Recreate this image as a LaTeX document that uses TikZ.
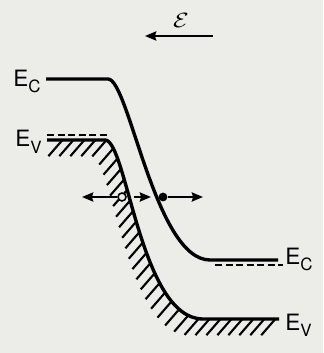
\documentclass[tikz,border=0pt]{standalone}
\usepackage{fontspec}
\setmainfont{TeX Gyre Heros}
\usetikzlibrary{arrows.meta,decorations.markings}
\definecolor{paper}{RGB}{236,236,233}
\newcommand{\lvl}[1]{E\raisebox{-0.15cm}{\fontsize{12}{12}\selectfont #1}}

\begin{document}
\begin{tikzpicture}[x=0.025cm, y=-0.025cm, >={Stealth[length=8pt,width=6.5pt,inset=1pt]},
        every node/.style={font=\fontsize{16}{16}\selectfont, inner sep=0pt},
        band/.style={line width=2.4pt},
        level/.style={line width=1.4pt, dash pattern=on 5pt off 2.5pt},
        move/.style={->, line width=1.5pt},
        hatch/.style={decorate, decoration={markings,
            mark=between positions 11pt and 1 step 7.8pt with
            {\pgftransformresetnontranslations \draw[line width=1.5pt] (0,0) -- (-10pt,-11.5pt);}}}]
                \fill[paper] (0,0) rectangle (323,353);
                \useasboundingbox (0,0) rectangle (323,353);

                % field
                \node (fld) at (181,20) {\scalebox{1.05}[0.85]{$\mathcal{E}$}};
                \coordinate (fldA) at (213,36);
                \coordinate (fldB) at (145,36);
                \draw[move] (fldA) -- (fldB);

                % bands
                \draw[band] (46,79) -- (108,79) .. controls (129,79) and (155,260) .. (210,260) -- (278,260);
                \path[hatch] (47,140) -- (105,140) .. controls (127,140) and (140,319) .. (203,319) -- (279,319);
                \draw[band] (47,140) -- (105,140) .. controls (127,140) and (140,319) .. (203,319) -- (279,319);
                \draw[level] (47,135) -- (107,135);
                \draw[level] (215,265) -- (283,265);

                \node[anchor=base west] (ecl) at (13,87) {\lvl{C}};
                \node[anchor=base west] (evl) at (15,147) {\lvl{V}};
                \node[anchor=base west] (ecr) at (285,264) {\lvl{C}};
                \node[anchor=base west] (evr) at (285,330) {\lvl{V}};

                % carriers
                \node[circle, draw, fill=paper, line width=1.1pt, minimum size=0.2cm] (hl) at (122,197) {};
                \node[circle, fill, minimum size=0.22cm] (el) at (163,197) {};
                \coordinate (hlL) at (82,197);
                \coordinate (midA) at (134,197);
                \coordinate (midB) at (151,197);
                \coordinate (elR) at (203,197);
                \draw[move] (hl) -- (hlL);
                \draw[move] (midA) -- (midB);
                \draw[move] (el) -- (elR);
            \end{tikzpicture}
\end{document}
